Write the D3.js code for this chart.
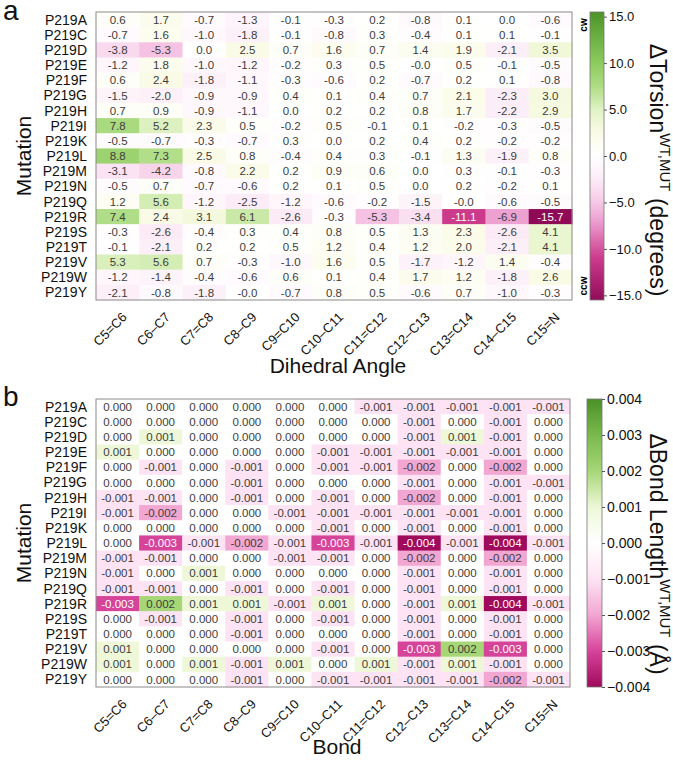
<!DOCTYPE html>
<html>
<head>
<meta charset="utf-8">
<script src="https://cdn.jsdelivr.net/npm/d3@7/dist/d3.min.js"></script>
<style>
  html, body { margin: 0; padding: 0; background: #fff; }
  svg { display: block; font-family: "Liberation Sans", Arial, Helvetica, sans-serif; }
</style>
</head>
<body>
<svg id="chart" width="673" height="760"></svg>
<script>
// ---------------- DATA ----------------
const mutations = ["P219A","P219C","P219D","P219E","P219F","P219G","P219H","P219I","P219K","P219L",
                   "P219M","P219N","P219Q","P219R","P219S","P219T","P219V","P219W","P219Y"];
const bondLabels = ["C5=C6","C6\u2013C7","C7=C8","C8\u2013C9","C9=C10","C10\u2013C11",
                    "C11=C12","C12\u2013C13","C13=C14","C14\u2013C15","C15=N"];

// panel a : torsion change (degrees); -0.02 marks a value shown as "-0.0"
const torsionValues = [
  [ 0.6,  1.7, -0.7, -1.3, -0.1, -0.3,  0.2, -0.8,   0.1,  0.0,  -0.6],
  [-0.7,  1.6, -1.0, -1.8, -0.1, -0.8,  0.3, -0.4,   0.1,  0.1,  -0.1],
  [-3.8, -5.3,  0.0,  2.5,  0.7,  1.6,  0.7,  1.4,   1.9, -2.1,   3.5],
  [-1.2,  1.8, -1.0, -1.2, -0.2,  0.3,  0.5, -0.02,  0.5, -0.1,  -0.5],
  [ 0.6,  2.4, -1.8, -1.1, -0.3, -0.6,  0.2, -0.7,   0.2,  0.1,  -0.8],
  [-1.5, -2.0, -0.9, -0.9,  0.4,  0.1,  0.4,  0.7,   2.1, -2.3,   3.0],
  [ 0.7,  0.9, -0.9, -1.1,  0.0,  0.2,  0.2,  0.8,   1.7, -2.2,   2.9],
  [ 7.8,  5.2,  2.3,  0.5, -0.2,  0.5, -0.1,  0.1,  -0.2, -0.3,  -0.5],
  [-0.5, -0.7, -0.3, -0.7,  0.3,  0.0,  0.2,  0.4,   0.2, -0.2,  -0.2],
  [ 8.8,  7.3,  2.5,  0.8, -0.4,  0.4,  0.3, -0.1,   1.3, -1.9,   0.8],
  [-3.1, -4.2, -0.8,  2.2,  0.2,  0.9,  0.6,  0.0,   0.3, -0.1,  -0.3],
  [-0.5,  0.7, -0.7, -0.6,  0.2,  0.1,  0.5,  0.0,   0.2, -0.2,   0.1],
  [ 1.2,  5.6, -1.2, -2.5, -1.2, -0.6, -0.2, -1.5,  -0.02,-0.6,  -0.5],
  [ 7.4,  2.4,  3.1,  6.1, -2.6, -0.3, -5.3, -3.4, -11.1, -6.9, -15.7],
  [-0.3, -2.6, -0.4,  0.3,  0.4,  0.8,  0.5,  1.3,   2.3, -2.6,   4.1],
  [-0.1, -2.1,  0.2,  0.2,  0.5,  1.2,  0.4,  1.2,   2.0, -2.1,   4.1],
  [ 5.3,  5.6,  0.7, -0.3, -1.0,  1.6,  0.5, -1.7,  -1.2,  1.4,  -0.4],
  [-1.2, -1.4, -0.4, -0.6,  0.6,  0.1,  0.4,  1.7,   1.2, -1.8,   2.6],
  [-2.1, -0.8, -1.8, -0.02,-0.7,  0.8,  0.5, -0.6,   0.7, -1.0,  -0.3]
];

// panel b : bond length change (angstrom)
const bondValues = [
  [ 0.000,  0.000,  0.000,  0.000,  0.000,  0.000, -0.001, -0.001, -0.001, -0.001, -0.001],
  [ 0.000,  0.000,  0.000,  0.000,  0.000,  0.000,  0.000, -0.001,  0.000, -0.001,  0.000],
  [ 0.000,  0.001,  0.000,  0.000,  0.000,  0.000,  0.000, -0.001,  0.001, -0.001,  0.000],
  [ 0.001,  0.000,  0.000,  0.000,  0.000, -0.001, -0.001, -0.001, -0.001, -0.001,  0.000],
  [ 0.000, -0.001,  0.000, -0.001,  0.000, -0.001, -0.001, -0.002,  0.000, -0.002,  0.000],
  [ 0.000,  0.000,  0.000, -0.001,  0.000,  0.000,  0.000, -0.001,  0.000, -0.001, -0.001],
  [-0.001, -0.001,  0.000, -0.001,  0.000, -0.001,  0.000, -0.002,  0.000, -0.001,  0.000],
  [-0.001, -0.002,  0.000,  0.000, -0.001, -0.001, -0.001, -0.001, -0.001, -0.001,  0.000],
  [ 0.000,  0.000,  0.000,  0.000,  0.000, -0.001,  0.000, -0.001,  0.000, -0.001,  0.000],
  [ 0.000, -0.003, -0.001, -0.002, -0.001, -0.003, -0.001, -0.004, -0.001, -0.004, -0.001],
  [-0.001, -0.001,  0.000,  0.000, -0.001, -0.001,  0.000, -0.002,  0.000, -0.002,  0.000],
  [-0.001,  0.000,  0.001,  0.000,  0.000,  0.000,  0.000, -0.001,  0.000, -0.001,  0.000],
  [-0.001, -0.001,  0.000, -0.001,  0.000, -0.001,  0.000, -0.001,  0.000, -0.001,  0.000],
  [-0.003,  0.002,  0.001,  0.001, -0.001,  0.001,  0.000, -0.001,  0.001, -0.004, -0.001],
  [ 0.000, -0.001,  0.000, -0.001,  0.000, -0.001,  0.000, -0.001,  0.000, -0.001,  0.000],
  [ 0.000,  0.000,  0.000, -0.001,  0.000,  0.000,  0.000, -0.001,  0.000, -0.001,  0.000],
  [ 0.001,  0.000,  0.000,  0.000,  0.000, -0.001,  0.000, -0.003,  0.002, -0.003,  0.000],
  [ 0.001,  0.000,  0.001, -0.001,  0.001,  0.000,  0.001, -0.001,  0.001, -0.001,  0.000],
  [ 0.000,  0.000,  0.000, -0.001,  0.000, -0.001, -0.001, -0.001, -0.001, -0.002, -0.001]
];

const torsionTicks = [15, 10, 5, 0, -5, -10, -15];
const bondTicks = [0.004, 0.003, 0.002, 0.001, 0, -0.001, -0.002, -0.003, -0.004];

// colour map stops
const torsionStops = [-15.7, -11, -7, -5, -2.5, 0, 2.5, 5, 7.5, 10, 15.7];
const torsionColors = ["#8e0a56","#cc3b8c","#ec9fd0","#f6c8e6","#fcecf7","#ffffff","#fafbe6","#e0f3c4","#aedc84","#8ccb5e","#4a9226"];
const bondStops = [-0.004, -0.003, -0.002, -0.001, 0, 0.001, 0.002, 0.003, 0.004];
const bondColors = ["#a00a5c","#d6449a","#f2a6d2","#fde3f3","#ffffff","#eef8d8","#a6d676","#7ab94e","#4a9128"];

// ---------------- DRAW ----------------
const svg = d3.select("#chart");

function drawPanel(o) {
  const g = svg.append("g");
  const x = d3.scaleBand().domain(bondLabels).range([o.x0, o.x1]);
  const y = d3.scaleBand().domain(mutations).range([o.y0, o.y1]);
  const color = d3.scaleLinear().domain(o.stops).range(o.colors).interpolate(d3.interpolateRgb).clamp(true);

  const cells = [];
  o.values.forEach((row, i) => row.forEach((v, j) => cells.push({m: mutations[i], b: bondLabels[j], v})));

  g.selectAll("rect.cell").data(cells).join("rect")
    .attr("class", "cell")
    .attr("x", d => x(d.b)).attr("y", d => y(d.m))
    .attr("width", x.bandwidth() + 0.5).attr("height", y.bandwidth() + 0.5)
    .attr("fill", d => color(d.v));

  g.selectAll("text.val").data(cells).join("text")
    .attr("class", "val")
    .attr("x", d => x(d.b) + x.bandwidth() / 2)
    .attr("y", d => y(d.m) + y.bandwidth() / 2)
    .attr("dy", "0.36em")
    .attr("text-anchor", "middle")
    .attr("font-size", 11.5)
    .attr("fill", d => d3.lab(color(d.v)).l < 60 ? "#ffffff" : "#3c3c3c")
    .text(d => d.v.toFixed(o.digits));

  // frame
  g.append("rect")
    .attr("x", o.x0).attr("y", o.y0)
    .attr("width", o.x1 - o.x0).attr("height", o.y1 - o.y0)
    .attr("fill", "none").attr("stroke", "#8a8a8a").attr("stroke-width", 1);

  // row labels
  g.selectAll("text.row").data(mutations).join("text")
    .attr("class", "row")
    .attr("x", o.x0 - 9)
    .attr("y", d => y(d) + y.bandwidth() / 2)
    .attr("dy", "0.36em")
    .attr("text-anchor", "end")
    .attr("font-size", 14)
    .attr("fill", "#111")
    .text(d => d);

  // column labels
  g.selectAll("text.col").data(bondLabels).join("text")
    .attr("class", "col")
    .attr("text-anchor", "end")
    .attr("font-size", 13)
    .attr("fill", "#111")
    .attr("transform", d => `translate(${x(d) + x.bandwidth() / 2 + 10},${o.y1 + 18}) rotate(-45)`)
    .text(d => d);

  // axis titles
  g.append("text")
    .attr("x", (o.x0 + o.x1) / 2 + 4).attr("y", o.xTitleY)
    .attr("text-anchor", "middle").attr("font-size", 21).attr("fill", "#111")
    .text(o.xTitle);
  g.append("text")
    .attr("transform", `translate(31,${(o.y0 + o.y1) / 2}) rotate(-90)`)
    .attr("text-anchor", "middle").attr("font-size", 21).attr("fill", "#111")
    .text("Mutation");

  // panel letter
  g.append("text")
    .attr("x", 3).attr("y", o.letterY)
    .attr("font-size", 28).attr("fill", "#111")
    .text(o.letter);

  // colour bar
  const cb = d3.scaleLinear().domain(o.cbDomain).range([o.y1, o.y0]);
  const gradId = "grad" + o.letter;
  const grad = svg.append("defs").append("linearGradient")
    .attr("id", gradId).attr("x1", 0).attr("x2", 0).attr("y1", 1).attr("y2", 0);
  d3.range(0, 1.0001, 0.02).forEach(t => {
    const v = cb.domain()[0] + t * (cb.domain()[1] - cb.domain()[0]);
    grad.append("stop").attr("offset", t).attr("stop-color", color(v));
  });
  g.append("rect")
    .attr("x", o.cbx).attr("y", o.y0).attr("width", o.cbw).attr("height", o.y1 - o.y0)
    .attr("fill", `url(#${gradId})`).attr("stroke", "#777").attr("stroke-width", 0.8);

  const axis = d3.axisRight(cb).tickValues(o.ticks).tickSize(3).tickPadding(2)
    .tickFormat(o.tickFormat);
  const ag = g.append("g").attr("transform", `translate(${o.cbx + o.cbw},0)`).call(axis);
  ag.select(".domain").remove();
  ag.selectAll("line").attr("stroke", "#555");
  ag.selectAll("text").attr("font-size", o.tickFont).attr("fill", "#111")
    .attr("font-family", "Liberation Sans, Arial, sans-serif");

  // colour bar title (reads top to bottom)
  const t = g.append("text")
    .attr("transform", `translate(${o.titleX},${o.titleY}) rotate(90)`)
    .attr("text-anchor", "middle").attr("font-size", 23).attr("fill", "#111");
  t.append("tspan").text(o.cbTitle);
  t.append("tspan").attr("font-size", 15).attr("dy", -10).text("WT,MUT");
  t.append("tspan").attr("dy", 10).text("\u00a0" + o.cbUnit);

  return g;
}

const ga = drawPanel({
  letter: "a", letterY: 20, values: torsionValues, digits: 1,
  x0: 96, x1: 572, y0: 12, y1: 300,
  stops: torsionStops, colors: torsionColors, cbDomain: [-15.5, 15.5],
  xTitle: "Dihedral Angle", xTitleY: 373,
  cbx: 590, cbw: 14, ticks: torsionTicks, tickFont: 13, tickFormat: d3.format(".1f"),
  titleX: 650, titleY: 170, cbTitle: "\u0394Torsion", cbUnit: "(degrees)"
});
// cw / ccw markers
ga.append("text").attr("transform", "translate(587,25) rotate(-90)")
  .attr("text-anchor", "middle").attr("font-size", 10).attr("font-weight", "bold").text("cw");
ga.append("text").attr("transform", "translate(587,286) rotate(-90)")
  .attr("text-anchor", "middle").attr("font-size", 10).attr("font-weight", "bold").text("ccw");

drawPanel({
  letter: "b", letterY: 406, values: bondValues, digits: 3,
  x0: 96, x1: 570, y0: 399, y1: 687,
  stops: bondStops, colors: bondColors, cbDomain: [-0.004, 0.004],
  xTitle: "Bond", xTitleY: 754,
  cbx: 587, cbw: 15, ticks: bondTicks, tickFont: 14, tickFormat: d3.format(".3f"),
  titleX: 650, titleY: 554, cbTitle: "\u0394Bond Length", cbUnit: "(\u00c5)"
});
</script>
</body>
</html>
